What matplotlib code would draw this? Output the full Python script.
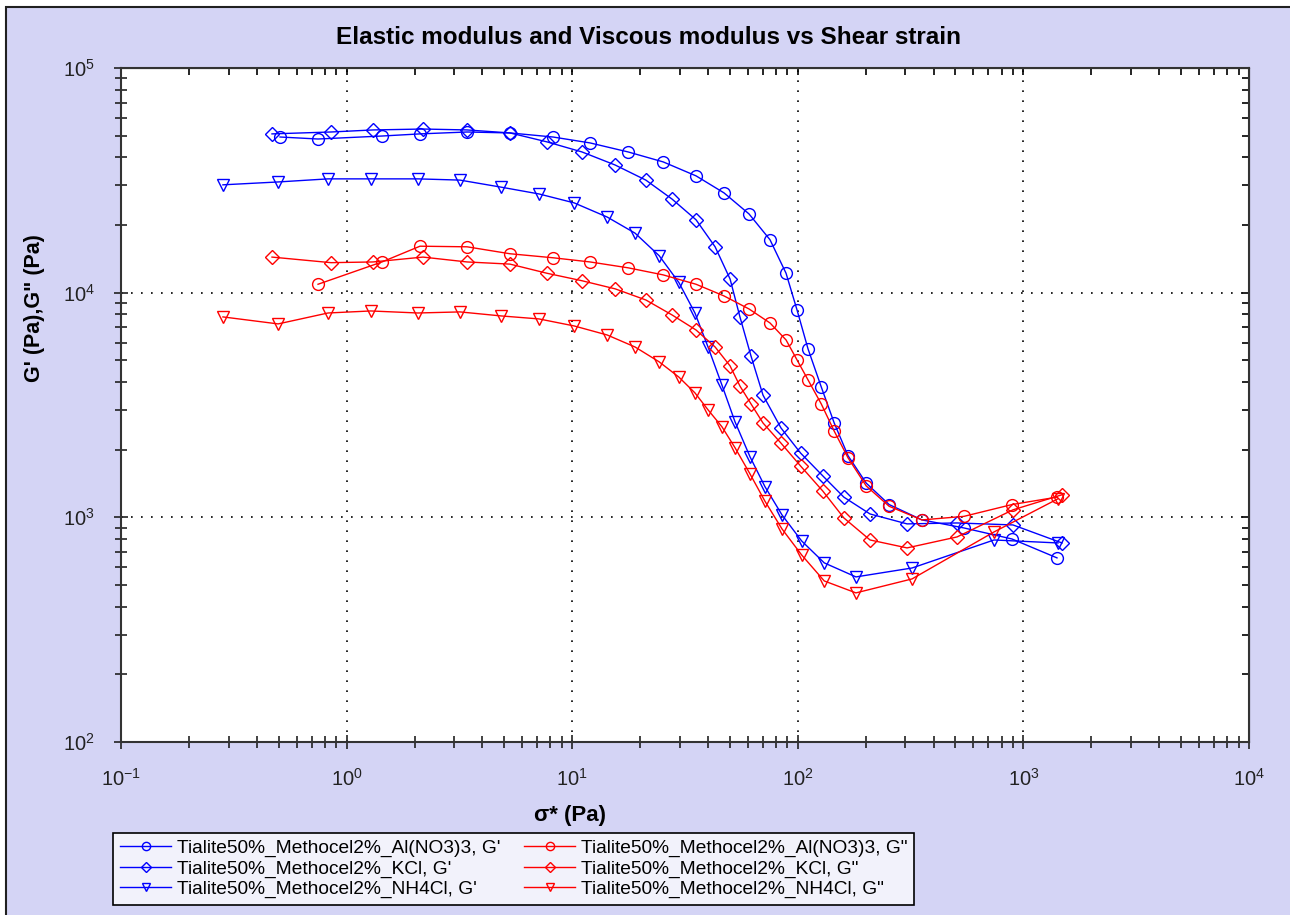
import matplotlib
matplotlib.use('Agg')
import matplotlib.pyplot as plt
from matplotlib.patches import Rectangle

plt.rcParams['font.family'] = ['Liberation Sans', 'DejaVu Sans']
plt.rcParams['mathtext.default'] = 'regular'

# sigma* (Pa) for each sample
x_al = [0.507, 0.747, 1.435, 2.115, 3.42, 5.30, 8.22, 12.0, 17.7, 25.3, 35.4, 47.1, 60.8,
        75.3, 88.7, 99.2, 111, 127, 145, 167, 201, 254, 355, 545, 890, 1409]
x_kcl = [0.467, 0.853, 1.31, 2.18, 3.42, 5.30, 7.73, 11.05, 15.5, 21.2, 27.7, 35.4, 43.0,
         50.1, 55.4, 62.0, 70.1, 84.2, 103, 129, 160, 209, 305, 508, 899, 1483]
x_nh4 = [0.283, 0.497, 0.827, 1.28, 2.07, 3.18, 4.83, 7.13, 10.2, 14.3, 19.0, 24.3, 29.7,
         35.0, 40.0, 46.1, 52.7, 61.4, 71.5, 85.1, 104, 131, 181, 321, 741, 1424]

# G' (Pa)
g1_al = [49300, 48300, 49800, 50900, 51900, 51400, 49300, 46400, 42300, 38200, 33100, 27800,
         22400, 17200, 12200, 8380, 5620, 3810, 2630, 1880, 1420, 1140, 974, 897, 801, 660]
g1_kcl = [50900, 51900, 53000, 53500, 53000, 51400, 46900, 42300, 37000, 31700, 26100, 21100,
          16000, 11500, 7800, 5230, 3500, 2500, 1930, 1530, 1230, 1035, 935, 944, 925, 769]
g1_nh4 = [30200, 31100, 32100, 32100, 32100, 31700, 29500, 27500, 25100, 21700, 18400, 14600,
          11100, 8120, 5730, 3880, 2660, 1860, 1370, 1025, 785, 627, 543, 595, 793, 769]

# G'' (Pa)  (Al series has no first point)
g2_al = [10900, 13700, 16100, 16000, 14900, 14300, 13700, 12900, 12000, 10900, 9670, 8460,
         7330, 6160, 5020, 4090, 3200, 2420, 1840, 1380, 1120, 974, 1010, 1140, 1230]
g2_kcl = [14400, 13600, 13700, 14400, 13700, 13400, 12200, 11300, 10400, 9280, 7960, 6820,
          5730, 4720, 3840, 3200, 2630, 2140, 1690, 1310, 994, 793, 731, 818, 1080, 1260]
g2_nh4 = [7800, 7260, 8120, 8290, 8120, 8210, 7880, 7640, 7110, 6480, 5730, 4920, 4210, 3580,
          3010, 2530, 2040, 1560, 1180, 888, 680, 521, 461, 532, 861, 1210]

base = 'Tialite50%_Methocel2%_'
title = 'Elastic modulus and Viscous modulus vs Shear strain'

W, H = 1290, 915
fig = plt.figure(figsize=(W / 100, H / 100), dpi=100)
fig.patch.set_facecolor('white')
fig.add_artist(Rectangle((6 / W, -0.02), 1.1, 1 - 7 / H + 0.02, transform=fig.transFigure,
                         facecolor='#D4D4F5', edgecolor='#202020', linewidth=1.5, zorder=-5))

ax = fig.add_axes([121 / W, 1 - 742 / H, 1128 / W, 674 / H])
ax.set_facecolor('white')
ax.set_xscale('log')
ax.set_yscale('log')

series = [
    (x_al, g1_al, 'blue', 'o', 'Al(NO3)3, G\''),
    (x_kcl, g1_kcl, 'blue', 'D', 'KCl, G\''),
    (x_nh4, g1_nh4, 'blue', 'v', 'NH4Cl, G\''),
    (x_al[1:], g2_al, 'red', 'o', 'Al(NO3)3, G"'),
    (x_kcl, g2_kcl, 'red', 'D', 'KCl, G"'),
    (x_nh4, g2_nh4, 'red', 'v', 'NH4Cl, G"'),
]
handles = []
for x, y, c, m, lab in series:
    ms = {'o': 8.5, 'D': 7, 'v': 9}[m]
    h, = ax.plot(x, y, '-', color=c, marker=m, mfc='none', mec=c, ms=ms, mew=1.0, lw=1.0,
                 label=base + lab)
    handles.append(h)

ax.set_xlim(0.1, 1e4)
ax.set_ylim(100, 1e5)
ax.grid(True, which='major', color='black', linestyle=(0, (1, 5)), linewidth=1.2)

for s in ax.spines.values():
    s.set_linewidth(1.5)
    s.set_color('#333333')
ax.tick_params(which='both', direction='inout', width=1.2, top=False, right=False,
               labelsize=14.5, pad=14, colors='#222222')
ax.tick_params(which='major', length=10)
ax.tick_params(which='minor', length=8)

top = ax.secondary_xaxis('top')
top.tick_params(which='both', direction='in', length=5, width=1.2, labeltop=False)
rgt = ax.secondary_yaxis('right')
rgt.tick_params(which='both', direction='in', length=5, width=1.2, labelright=False)

fig.text(648 / W, 1 - 37 / H, title, ha='center', va='center', fontsize=17.5, fontweight='bold')
fig.text(570 / W, 1 - 815 / H, 'σ* (Pa)', ha='center', va='center', fontsize=16, fontweight='bold')
fig.text(35 / W, 1 - 308 / H, 'G\' (Pa),G" (Pa)', ha='center', va='center', rotation=90,
         fontsize=15.5, fontweight='bold')

leg = fig.legend(handles=handles, loc='upper left', bbox_to_anchor=(113 / W, 1 - 833 / H), ncol=2,
                 fontsize=13.8, frameon=True, fancybox=False, edgecolor='black', facecolor='#F2F2FB',
                 framealpha=1, handlelength=2.7, labelspacing=0.15, columnspacing=1.2,
                 borderpad=0.35, handletextpad=0.3, markerscale=0.7, borderaxespad=0)
leg.get_frame().set_linewidth(1.2)

fig.savefig('out.png', dpi=100, facecolor=fig.get_facecolor())
